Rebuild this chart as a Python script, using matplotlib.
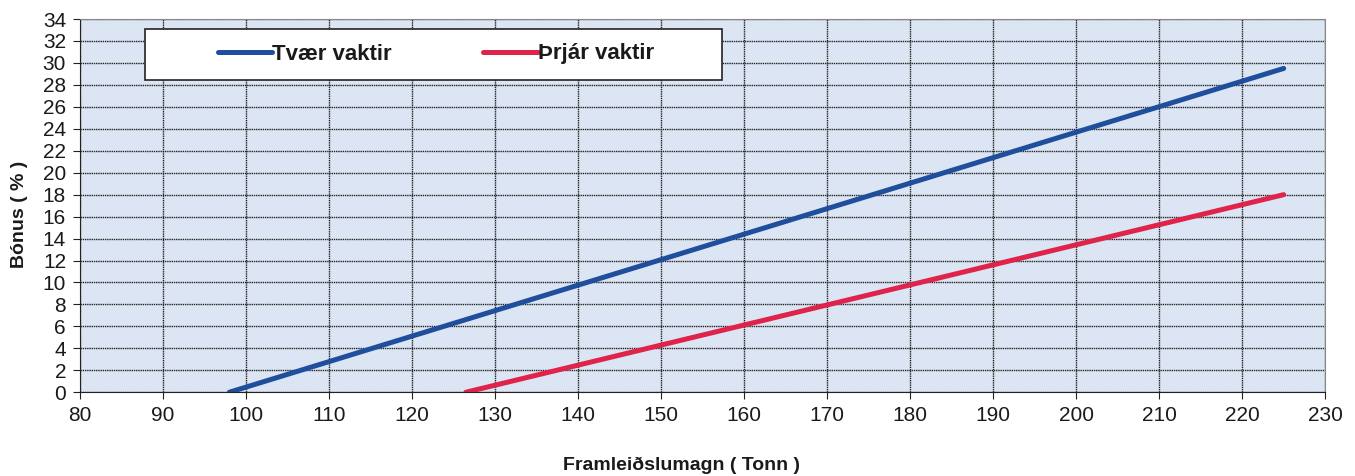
import numpy as np
import matplotlib
matplotlib.use("Agg")
import matplotlib.pyplot as plt
from matplotlib.patches import Rectangle

plt.rcParams['font.family'] = ['Liberation Sans', 'DejaVu Sans']

# start and end points of each line
tvaer_x = [98, 225]
tvaer_y = [0, 29.5]
thrjar_x = [126.5, 225]
thrjar_y = [0, 18]

xticks = np.arange(80, 231, 10)
yticks = np.arange(0, 35, 2)

fig = plt.figure(figsize=(13.55, 4.76), dpi=100)
ax = fig.add_axes([0.059, 0.176, 0.919, 0.784])
ax.set_facecolor('#dce5f3')

ax.plot(tvaer_x, tvaer_y, color='#1f4e9c', lw=3.6, solid_capstyle='round', label='Tvær vaktir')
ax.plot(thrjar_x, thrjar_y, color='#e0234a', lw=3.6, solid_capstyle='round', label='Þrjár vaktir')

ax.set_xlim(80, 230)
ax.set_ylim(0, 34)
ax.set_xticks(xticks)
ax.set_yticks(yticks)
ax.tick_params(labelsize=15, length=5, color='#222222', labelcolor='#1a1a1a', pad=5)
ax.grid(True, color='#222222', lw=1.0, ls=(0, (1, 0.6)))
ax.set_axisbelow(True)
for s in ax.spines.values():
    s.set_color('#888888')
    s.set_linewidth(0.8)
ax.spines['bottom'].set_color('#222222')
ax.spines['left'].set_color('#222222')

ax.set_xlabel('Framleiðslumagn ( Tonn )', fontsize=14, fontweight='bold', color='#1a1a1a')
ax.set_ylabel('Bónus ( % )', fontsize=14, fontweight='bold', color='#1a1a1a')
ax.xaxis.set_label_coords(0.483, -0.172)
ax.yaxis.set_label_coords(-0.042, 0.477)

# legend box drawn separately so the padding matches
box = Rectangle((145 / 1355, 1 - 80 / 476), 577 / 1355, 51 / 476,
                transform=fig.transFigure, facecolor='white',
                edgecolor='#222222', lw=1.2, zorder=5, clip_on=False)
ax.add_patch(box)
leg = ax.legend(loc='center left', bbox_to_anchor=(218 / 1355, 1 - 54 / 476),
                bbox_transform=fig.transFigure, ncol=2,
                prop={'weight': 'bold', 'size': 16}, frameon=False,
                handlelength=2.45, handletextpad=0.0, columnspacing=4.1,
                borderpad=0, borderaxespad=0)
leg.set_zorder(6)
for t in leg.get_texts():
    t.set_color('#1a1a1a')

fig.savefig('out.png', dpi=100)
